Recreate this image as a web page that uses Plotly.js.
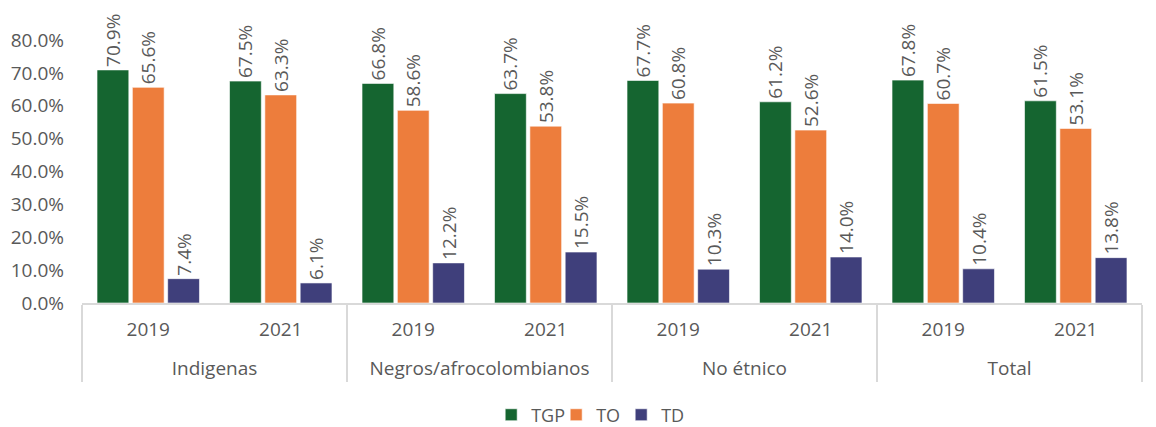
<!DOCTYPE html>
<html>
<head>
<meta charset="utf-8">
<script src="https://cdn.plot.ly/plotly-3.0.1.min.js"></script>
<style>html,body{margin:0;padding:0;background:#fff;}#chart{width:1156px;height:427px;}</style>
</head>
<body>
<div id="chart"></div>
<script>
const groups = ["Indigenas","Indigenas","Negros/afrocolombianos","Negros/afrocolombianos","No étnico","No étnico","Total","Total"];
const years = ["2019","2021","2019","2021","2019","2021","2019","2021"];
const seriesNames = ["TGP","TO","TD"];
const TGP = [70.9, 67.5, 66.8, 63.7, 67.7, 61.2, 67.8, 61.5];
const TO  = [65.6, 63.3, 58.6, 53.8, 60.8, 52.6, 60.7, 53.1];
const TD  = [7.4, 6.1, 12.2, 15.5, 10.3, 14.0, 10.4, 13.8];
const yTickVals = [0,10,20,30,40,50,60,70,80];

const colors = ["#156530","#ED7D3C","#3F3F7B"];
const txtColor = "#595959";
const font = {family: "Open Sans, sans-serif", size: 19, color: txtColor};
const legendFont = {family: "Open Sans, sans-serif", size: 18, color: txtColor};

// extra tiny line under the year labels widens the gap to the group labels
const yearLabels = years.map(y => y + "<br><span style='font-size:1px'>\u00a0</span>");

const data = [TGP, TO, TD].map((vals, i) => ({
  type: "bar",
  name: seriesNames[i],
  x: [groups, yearLabels],
  y: vals,
  marker: {color: colors[i], line: {color: "rgba(255,255,255,0.6)", width: 1}},
  text: vals.map(v => v.toFixed(1) + "%"),
  textposition: "outside",
  textangle: -90,
  constraintext: "none",
  cliponaxis: false,
  textfont: font,
  hoverinfo: "none"
}));

const layout = {
  width: 1156, height: 427,
  margin: {l: 82, r: 14, t: 40, b: 124, autoexpand: false},
  paper_bgcolor: "#fff", plot_bgcolor: "#fff",
  font: font,
  barmode: "group",
  bargap: 0.2,
  bargroupgap: 0.1,
  showlegend: true,
  legend: {orientation: "h", x: 0.478, xanchor: "center", yref: "container", y: 0.028, yanchor: "middle", font: legendFont, entrywidth: 20},
  xaxis: {
    type: "multicategory",
    showline: true, linecolor: "#d9d9d9", linewidth: 2,
    showdividers: true, dividercolor: "#d9d9d9", dividerwidth: 2,
    ticks: "", tickfont: font, showgrid: false,
    ticklabelstandoff: 8
  },
  yaxis: {
    range: [0, 80],
    tickvals: yTickVals,
    ticktext: yTickVals.map(v => v.toFixed(1) + "%"),
    showgrid: false, zeroline: false, showline: false,
    tickfont: font, ticks: "",
    ticklabelstandoff: 17
  }
};

Plotly.newPlot("chart", data, layout, {displayModeBar: false, staticPlot: true});
</script>
</body>
</html>
